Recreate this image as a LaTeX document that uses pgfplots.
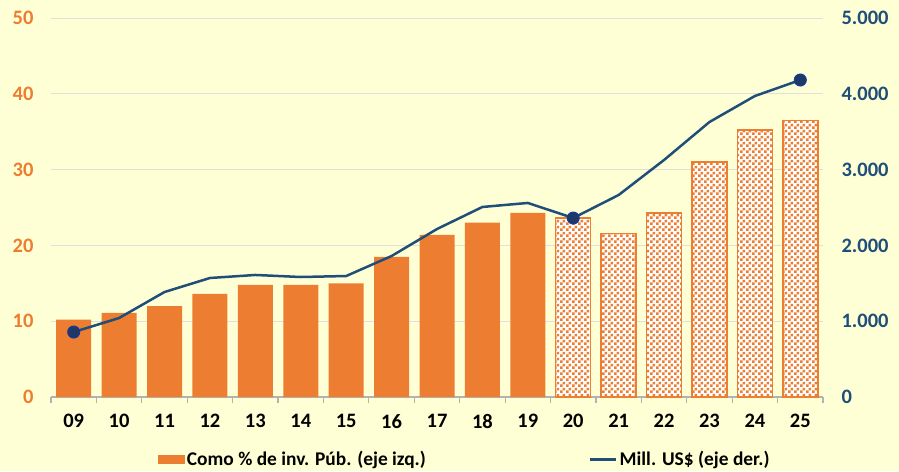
\documentclass[border=0pt]{standalone}
\usepackage{pgfplots}
\pgfplotsset{compat=1.18}
\usepackage{fontspec}
\setmainfont{Carlito}
\usetikzlibrary{patterns.meta}
\definecolor{bg}{HTML}{FFFFD5}
\definecolor{barorange}{HTML}{ED7D31}
\definecolor{navy}{HTML}{1F4E79}
\definecolor{markc}{HTML}{203864}
\tikzdeclarepattern{name=check, type=uncolored,
  bounding box={(0pt,0pt) and (5.6pt,5.6pt)}, tile size={(5.6pt,5.6pt)},
  code={\fill (0pt,0pt) rectangle (2.8pt,2.8pt); \fill (2.8pt,2.8pt) rectangle (5.6pt,5.6pt);}}
\begin{document}
\begin{tikzpicture}
\path[use as bounding box, fill=bg] (-51pt,-74pt) rectangle (848pt,397pt);
\begin{axis}[
  at={(0pt,0pt)}, anchor=south west,
  scale only axis, width=772pt, height=379pt,
  xmin=-0.5, xmax=16.5, ymin=0, ymax=50,
  axis x line*=bottom, axis y line*=left,
  y axis line style={draw=none},
  x axis line style={draw=gray!60, line width=1.2pt, -},
  xtick={0,...,16},
  xticklabels={09,10,11,12,13,14,15,16,17,18,19,20,21,22,23,24,25},
  minor xtick={-0.5,0.5,...,16.5},
  major tick length=0pt, minor tick length=6pt, tick align=outside,
  minor tick style={draw=gray!60, line width=1.2pt},
  ytick={0,10,...,50},
  ytick style={draw=none},
  ymajorgrids, grid style={draw=gray!25, line width=0.9pt},
  minor grid style={draw=none},
  /pgf/number format/assume math mode=true,
  yticklabel style={font=\fontsize{20.5}{22}\selectfont\bfseries, text=barorange, xshift=-14pt},
  xticklabel style={font=\fontsize{20.5}{22}\selectfont\bfseries, text=black, yshift=-14pt},
  legend columns=2,
  legend style={at={(0.536,-0.165)}, anchor=center, draw=none, fill=none,
    font=\fontsize{19.4}{22}\selectfont\bfseries,
    /tikz/every even column/.append style={column sep=161pt}},
]
\addplot[ybar, bar shift=0pt, bar width=35pt, fill=barorange, draw=none,
  legend image code/.code={\fill[barorange] (0pt,-4.5pt) rectangle (27pt,4.5pt);}]
  coordinates {(0,10.2) (1,11.1) (2,12.0) (3,13.6) (4,14.8) (5,14.8) (6,15.0)
               (7,18.5) (8,21.4) (9,23.0) (10,24.3)};
\addlegendentry{Como \% de inv. Púb. (eje izq.)}
\addplot[ybar, bar shift=0pt, bar width=35pt, draw=barorange, line width=1.4pt, fill=white,
  postaction={pattern=check, pattern color=barorange}, forget plot]
  coordinates {(11,23.6) (12,21.6) (13,24.3) (14,31.0) (15,35.2) (16,36.5)};
\addlegendimage{legend image code/.code={\draw[navy, line width=2.8pt] (0pt,0pt) -- (26pt,0pt);}}
\addlegendentry{Mill. US\$ (eje der.)}
\end{axis}
\begin{axis}[
  at={(0pt,0pt)}, anchor=south west,
  scale only axis, width=772pt, height=379pt,
  xmin=-0.5, xmax=16.5, ymin=0, ymax=5000,
  axis x line=none, axis y line*=right,
  y axis line style={draw=none},
  ytick={0,1000,...,5000},
  yticklabels={0,1.000,2.000,3.000,4.000,5.000},
  ytick style={draw=none},
  yticklabel style={font=\fontsize{20.5}{22}\selectfont\bfseries, text=navy, xshift=15pt},
]
\addplot[navy, line width=2.5pt, mark=*, mark indices={1,12,17}, mark size=6pt,
  mark options={fill=markc, draw=navy!70!blue, line width=1pt}]
  coordinates {(0,857) (1,1042) (2,1385) (3,1570) (4,1610) (5,1583) (6,1596)
               (7,1860) (8,2216) (9,2507) (10,2560) (11,2361) (12,2665)
               (13,3127) (14,3628) (15,3971) (16,4182)};
\end{axis}
\end{tikzpicture}
\end{document}
